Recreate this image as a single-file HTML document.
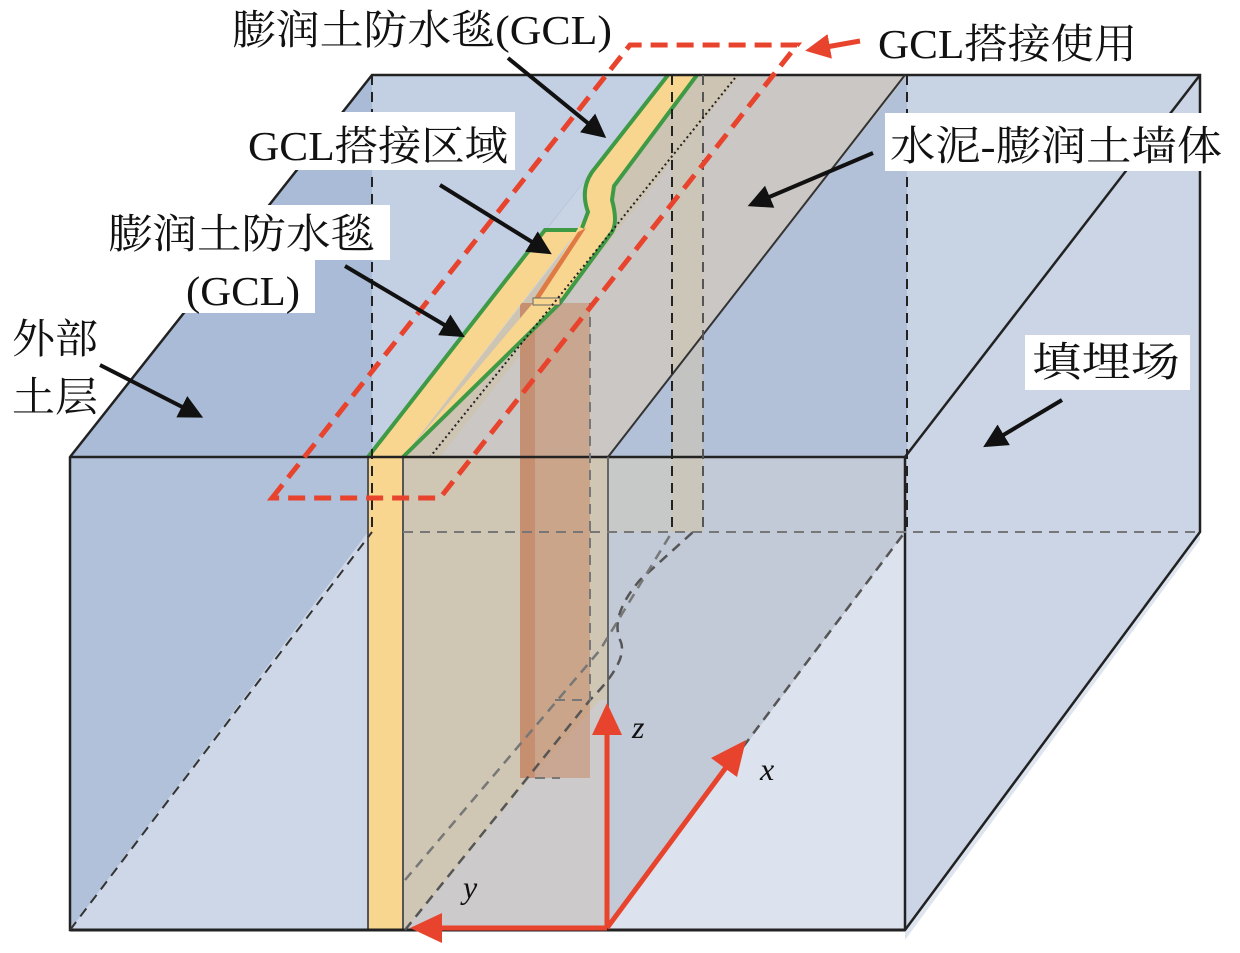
<!DOCTYPE html>
<html><head><meta charset="utf-8"><style>
html,body{margin:0;padding:0;background:#fff;}
svg{display:block;}
text{font-family:"Liberation Serif","Noto Serif CJK SC",serif;fill:#111;}
</style></head><body>
<svg width="1240" height="953" viewBox="0 0 1240 953" xmlns="http://www.w3.org/2000/svg">
<defs>
<marker id="ah" markerWidth="6" markerHeight="6" refX="4" refY="3" orient="auto" markerUnits="strokeWidth"><path d="M0,0 L6,3 L0,6 z" fill="#111"/></marker>
<marker id="rh" markerWidth="5" markerHeight="5" refX="3" refY="2.5" orient="auto" markerUnits="strokeWidth"><path d="M0,0 L5,2.5 L0,5 z" fill="#e8432d"/></marker>
</defs>
<polygon points="70,457 372,75 1200,75 1200,532 905,930 70,930" fill="#c8d3e4"/>
<polygon points="70,457 372,75 668,75 368,457" fill="#a9bbd6"/>
<polygon points="372,75 668,75 372,450" fill="#c3cfe2"/>
<polygon points="608,457 907,75 907,532 905,457" fill="#b3c1d8"/>
<polygon points="608,457 905,100 905,457" fill="#b3c1d8"/>
<polygon points="905,457 1200,75 1200,532 905,930" fill="#cbd5e5"/>
<polygon points="905,930 1200,532 1200,540 905,940" fill="#dfe5ef"/>
<rect x="70" y="457" width="298" height="473" fill="#b1c1da"/>
<polygon points="70,930 368,532 368,930" fill="#cdd7e7"/>
<rect x="608" y="457" width="297" height="473" fill="#c2c9d7"/>
<polygon points="608,930 905,532 905,930" fill="#dde3ee"/>
<polygon points="403,457 700,75 907,75 608,457" fill="#cac7c4"/>
<polygon points="403,457 700,75 740,75 440,457" fill="#cdc4b3"/>
<rect x="403" y="457" width="205" height="473" fill="#cfc6b4"/>
<polygon points="405,930 530,778 600,700 608,700 608,930" fill="#cccacb"/>
<rect x="608" y="457" width="95" height="75" fill="#c8c8c4" opacity="0.8"/>
<rect x="672" y="75" width="31" height="457" fill="#cdc4b3" opacity="0.6"/>
<rect x="520" y="303" width="70" height="475" fill="#c98a66" opacity="0.55"/>
<rect x="520" y="303" width="15" height="475" fill="#c07a58" opacity="0.5"/>
<rect x="368" y="457" width="35" height="473" fill="#f8d68f" stroke="#555" stroke-width="2"/>
<polygon points="368,457 545,230 578,230 403,457" fill="#f8d68f"/>
<polyline points="368,457 545,230 578,230" fill="none" stroke="#3f9a45" stroke-width="4"/>
<path d="M403,457 L560,303 L612,232 Q618,222 612,200 L612,185 L697,75 L668,75 L592,172 Q580,190 588,210 L580,225 L533,303 Z" fill="#f8d68f"/>
<path d="M403,457 L560,303 L612,232 Q618,222 612,200 L614,186 L697,75" fill="none" stroke="#3f9a45" stroke-width="4"/>
<path d="M668,75 L592,172 Q580,190 588,212 L582,228" fill="none" stroke="#3f9a45" stroke-width="4"/>
<polygon points="578,232 586,228 540,298 533,300" fill="#e07a45"/>
<rect x="533" y="298" width="27" height="7" fill="#f8d68f" stroke="#666" stroke-width="1"/>
<polygon points="70,457 372,75 1200,75 1200,532 905,930 70,930" fill="none" stroke="#222" stroke-width="2.5"/>
<line x1="70" y1="457" x2="905" y2="457" stroke="#222" stroke-width="2.5"/>
<line x1="905" y1="457" x2="1200" y2="75" stroke="#222" stroke-width="2.5"/>
<line x1="905" y1="457" x2="905" y2="930" stroke="#222" stroke-width="2.5"/>
<line x1="608" y1="457" x2="905" y2="75" stroke="#333" stroke-width="2"/>
<line x1="608" y1="457" x2="608" y2="930" stroke="#666" stroke-width="2"/>
<line x1="70" y1="930" x2="905" y2="930" stroke="#222" stroke-width="3"/>
<g fill="none" stroke-dasharray="10,7">
<line x1="372" y1="75" x2="372" y2="532" stroke="#222" stroke-width="2"/>
<line x1="672" y1="75" x2="672" y2="532" stroke="#222" stroke-width="2"/>
<line x1="703" y1="75" x2="703" y2="532" stroke="#555" stroke-width="2"/>
<line x1="907" y1="75" x2="907" y2="532" stroke="#222" stroke-width="2"/>
<line x1="403" y1="532" x2="1200" y2="532" stroke="#777" stroke-width="2"/>
<line x1="70" y1="930" x2="372" y2="532" stroke="#333" stroke-width="2"/>
<path d="M405,930 L590,700 Q630,660 620,640 Q610,615 640,580 L693,532" stroke="#555" stroke-width="2.5"/>
<path d="M405,880 L600,650 L672,532" stroke="#777" stroke-width="2.5"/>
<path d="M743,747 L905,532" stroke="#555" stroke-width="2.5"/>
<path d="M555,700 L590,700 L590,303 M535,778 L560,778" stroke="#777" stroke-width="2"/>
</g>
<line x1="735" y1="78" x2="430" y2="457" stroke="#222" stroke-width="2" stroke-dasharray="2,3"/>
<polygon points="272,498 630,45 797,45 440,498" fill="none" stroke="#e8432d" stroke-width="5" stroke-dasharray="17,9"/>
<line x1="860" y1="41" x2="815" y2="49" stroke="#e8432d" stroke-width="5" marker-end="url(#rh)"/>
<g stroke="#e8432d" stroke-width="5" fill="none">
<line x1="607" y1="928" x2="607" y2="730"/>
<line x1="607" y1="928" x2="432" y2="928"/>
<line x1="607" y1="928" x2="730" y2="762"/>
</g>
<polygon points="607,703 592,735 622,735" fill="#e8432d"/>
<polygon points="410,928 442,913 442,943" fill="#e8432d"/>
<polygon points="746,740 711,758 737,777" fill="#e8432d"/>
<text x="632" y="738" font-size="32" font-style="italic">z</text>
<text x="760" y="780" font-size="32" font-style="italic">x</text>
<text x="463" y="898" font-size="32" font-style="italic">y</text>
<g stroke="#111" stroke-width="4" fill="none" marker-end="url(#ah)">
<line x1="508" y1="58" x2="600" y2="133"/>
<line x1="440" y1="185" x2="545" y2="250"/>
<line x1="345" y1="266" x2="458" y2="333"/>
<line x1="100" y1="365" x2="196" y2="414"/>
<line x1="873" y1="153" x2="755" y2="203"/>
<line x1="1062" y1="400" x2="990" y2="443"/>
</g>
<rect x="243" y="112" width="272" height="58" fill="#fff"/>
<rect x="885" y="113" width="343" height="58" fill="#fff"/>
<rect x="105" y="205" width="285" height="55" fill="#fff"/>
<rect x="180" y="258" width="135" height="55" fill="#fff"/>
<rect x="1025" y="335" width="165" height="55" fill="#fff"/>
<text x="232" y="44" font-size="41" textLength="380" lengthAdjust="spacingAndGlyphs">膨润土防水毯(GCL)</text>
<text x="878" y="58" font-size="41" textLength="259" lengthAdjust="spacingAndGlyphs">GCL搭接使用</text>
<text x="248" y="160" font-size="41" textLength="260" lengthAdjust="spacingAndGlyphs">GCL搭接区域</text>
<text x="890" y="160" font-size="41" textLength="332" lengthAdjust="spacingAndGlyphs">水泥-膨润土墙体</text>
<text x="108" y="248" font-size="41" textLength="267" lengthAdjust="spacingAndGlyphs">膨润土防水毯</text>
<text x="186" y="305" font-size="41" textLength="114" lengthAdjust="spacingAndGlyphs">(GCL)</text>
<text x="12" y="353" font-size="41" textLength="86" lengthAdjust="spacingAndGlyphs">外部</text>
<text x="12" y="411" font-size="41" textLength="86" lengthAdjust="spacingAndGlyphs">土层</text>
<text x="1032" y="376" font-size="41" textLength="148" lengthAdjust="spacingAndGlyphs">填埋场</text>
</svg>
</body></html>
